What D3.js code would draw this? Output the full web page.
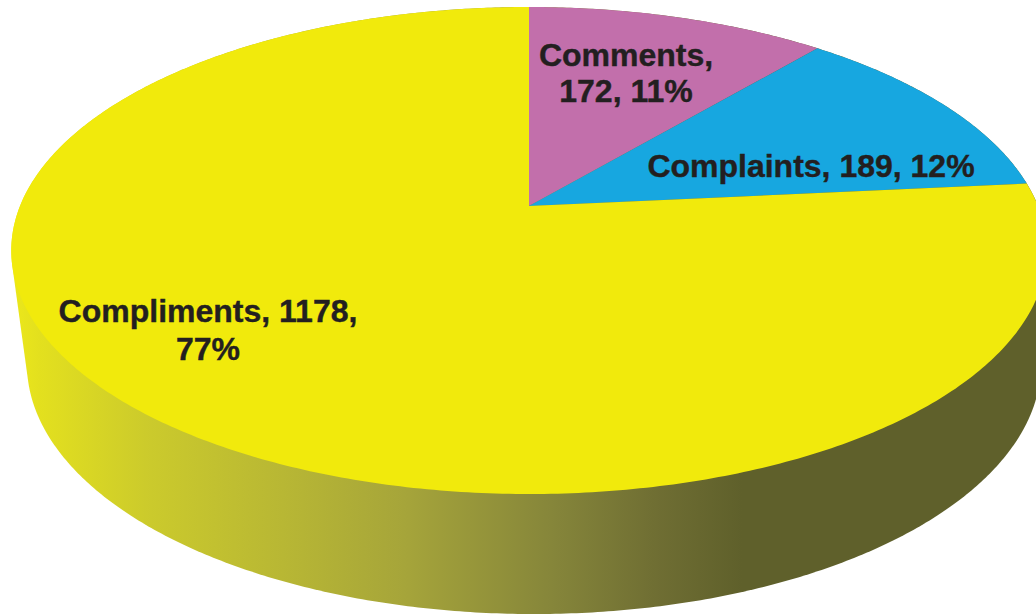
<!DOCTYPE html>
<html>
<head>
<meta charset="utf-8">
<script src="https://cdn.jsdelivr.net/npm/d3@7/dist/d3.min.js"></script>
<style>
  html, body { margin: 0; padding: 0; background: #fff; overflow: hidden; }
  svg { display: block; }
  text { font-family: "Liberation Sans", Arial, sans-serif; font-weight: 700; fill: #231f20; stroke: #231f20; stroke-width: 0.4px; }
</style>
</head>
<body>
<svg id="chart" width="1036" height="614"></svg>
<script>
const categories = ["Comments", "Complaints", "Compliments"];
const counts = [172, 189, 1178];
const percents = [11, 12, 77];

const sliceColor = d3.scaleOrdinal(categories, ["#c26fab", "#17a7e0", "#f1ea0c"]);

// Wrapped label lines and anchors for each slice
const labelLayout = [
  { lines: d => [`${d.name},`, `${d.count}, ${d.pct}%`], x: 626, y: [66, 102] },
  { lines: d => [`${d.name}, ${d.count}, ${d.pct}%`], x: 811, y: [177] },
  { lines: d => [`${d.name}, ${d.count},`, `${d.pct}%`], x: 208, y: [322, 360] }
];

// Perspective view of a disc: k is the foreshortening toward the viewer
const k = 0.1828;
const topDisc = { cx: 529, y0: 206, p: -197.7, w: 509 };
const baseDisc = { cx: 534, y0: 318.3, p: -183.5, w: 498.5 };

function project(disc, angle) {
  const s = Math.sin(angle), c = Math.cos(angle), d = 1 + k * c;
  return [disc.cx + disc.w * s / d, (disc.y0 + disc.p * c) / d];
}

const svg = d3.select("#chart");

// Shading across the visible wall of the cylinder
const wallStops = [
  [12, "#ece81a"], [40, "#e3e01e"], [150, "#cbca2c"], [280, "#b8b734"],
  [400, "#a6a53a"], [550, "#85853a"], [650, "#6f6e33"], [735, "#5f602b"], [1036, "#5f602b"]
];
const wallX = d3.scaleLinear().domain([12, 1036]).range([0, 1]);
svg.append("defs").append("linearGradient")
    .attr("id", "wall")
    .attr("x1", 0).attr("x2", 1).attr("y1", 0).attr("y2", 0)
  .selectAll("stop").data(wallStops).join("stop")
    .attr("offset", d => wallX(d[0]))
    .attr("stop-color", d => d[1]);

const line = d3.line();
const circleAngles = d3.range(0, 720).map(i => i / 720 * 2 * Math.PI);

// Wall: the outline around the top and bottom rims
const hull = d3.polygonHull(circleAngles.flatMap(a => [project(topDisc, a), project(baseDisc, a)]));
svg.append("path")
    .attr("d", line(hull) + "Z")
    .attr("fill", "url(#wall)");

const pie = d3.pie().sort(null).value(d => d.count);
const rows = categories.map((name, i) => ({ name, count: counts[i], pct: percents[i] }));
const arcs = pie(rows);

// Top face: each slice runs from the hub out along its rim
function slicePath(d) {
  const n = Math.max(2, Math.ceil((d.endAngle - d.startAngle) * 90));
  const rim = d3.range(n + 1).map(i => project(topDisc, d.startAngle + (d.endAngle - d.startAngle) * i / n));
  return line([[topDisc.cx, topDisc.y0], ...rim]) + "Z";
}
svg.append("g").selectAll("path").data(arcs).join("path")
    .attr("d", slicePath)
    .attr("fill", d => sliceColor(d.data.name));

// Data labels
svg.append("g").selectAll("g").data(arcs).join("g")
    .each(function (d, i) {
      const layout = labelLayout[i];
      d3.select(this).selectAll("text").data(layout.lines(d.data)).join("text")
        .attr("x", layout.x)
        .attr("y", (t, j) => layout.y[j])
        .attr("text-anchor", "middle")
        .attr("font-size", 32)
        .text(t => t);
    });
</script>
</body>
</html>
